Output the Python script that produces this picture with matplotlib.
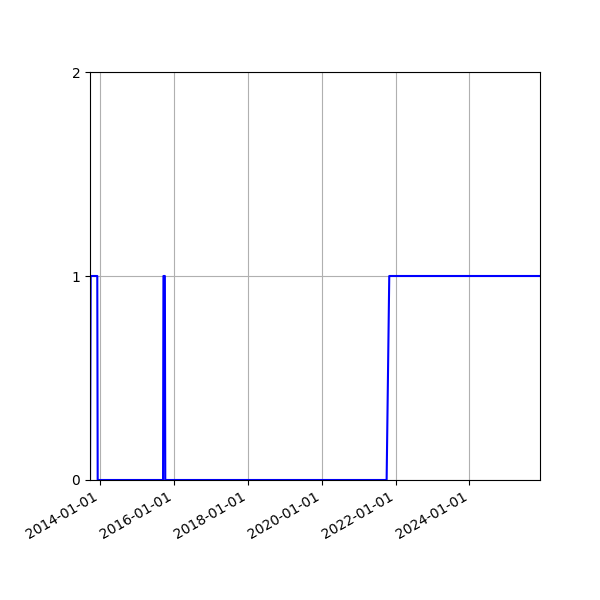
import numpy as np
import pandas as pd
import matplotlib
matplotlib.use("Agg")
import matplotlib.pyplot as plt
import matplotlib.dates as mdates

# step series (dates, state 0/1)
dates = ["2013-09-24", "2013-10-01", "2013-12-05", "2013-12-09",
         "2015-09-16", "2015-09-20", "2015-10-04", "2015-10-08",
         "2021-10-04", "2021-10-30", "2025-11-28"]
values = [0, 1, 1, 0,
          0, 1, 1, 0,
          0, 1, 1]

x = pd.to_datetime(dates)
y = np.array(values)

fig, ax = plt.subplots(figsize=(6, 6), dpi=100)
ax.plot(x, y, color="blue", linewidth=1.5)

ax.set_xlim(x[0], x[-1])
ax.set_ylim(0, 2)
ax.set_yticks([0, 1, 2])
ax.xaxis.set_major_locator(mdates.YearLocator(2))
ax.xaxis.set_major_formatter(mdates.DateFormatter("%Y-%m-%d"))
ax.grid(True)

fig.autofmt_xdate()
fig.subplots_adjust(left=0.15, right=0.9, top=0.88, bottom=0.2)
fig.savefig("out.png")
